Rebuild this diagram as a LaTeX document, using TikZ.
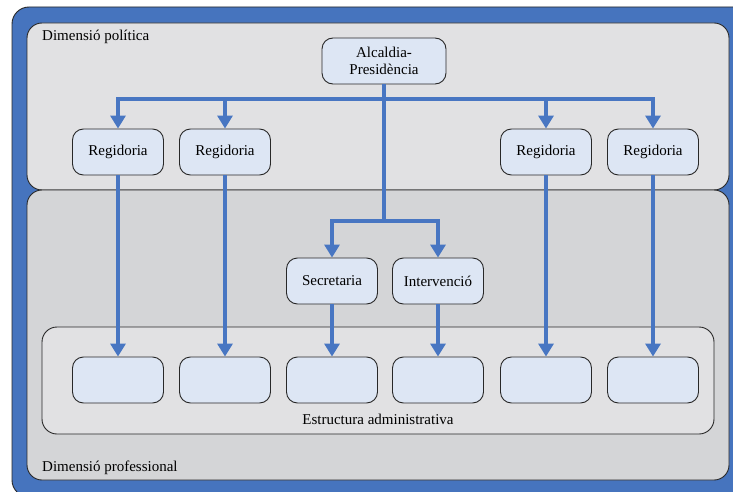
\documentclass[tikz,border=0pt]{standalone}
\usepackage{fontspec}
\setmainfont{Liberation Serif}
\usetikzlibrary{arrows.meta}
\definecolor{frameblue}{RGB}{70,116,190}
\definecolor{flowblue}{RGB}{72,118,194}
\definecolor{upperpanel}{RGB}{225,225,227}
\definecolor{lowerpanel}{RGB}{212,213,215}
\definecolor{boxfill}{RGB}{221,230,244}
\definecolor{edge}{RGB}{40,40,40}
\tikzset{
  unitbox/.style={draw=edge, line width=0.9pt, fill=boxfill, rounded corners=11pt,
    minimum width=91pt, minimum height=46pt, inner sep=0pt,
    font=\fontsize{15}{17.5}\selectfont, align=center},
  panel/.style={draw=edge, line width=0.9pt, rounded corners=15pt},
  pipe/.style={draw=flowblue, line width=4.2pt},
  flow/.style={pipe, -{Triangle[width=15pt,length=13pt]}},
  caption/.style={font=\fontsize{15}{17.5}\selectfont, inner sep=0pt}
}
\begin{document}
\begin{tikzpicture}[x=1pt,y=-1pt]
\useasboundingbox (0,0) rectangle (733,492);
\begin{scope}
\clip (0,0) rectangle (733,492);
% outer frame
\draw[panel, fill=frameblue, rounded corners=17pt] (12,7) rectangle (750,497);
% political and professional layers
\draw[panel, fill=upperpanel] (27,23) rectangle (729,190);
\draw[panel, fill=lowerpanel] (27,190) rectangle (729,480);
\draw[panel, fill=upperpanel] (42,327) rectangle (714,434);
\end{scope}

\node[caption, anchor=base west] (pol) at (42,41) {Dimensió política};
\node[caption, anchor=base west] (prof) at (42,471) {Dimensió professional};
\node[caption, anchor=base] (adm) at (378,424) {Estructura administrativa};

% governing bodies
\node[unitbox, minimum width=124pt] (alc) at (384,61) {Alcaldia-\\Presidència};
\node[unitbox] (r1) at (118,152) {Regidoria};
\node[unitbox] (r2) at (225,152) {Regidoria};
\node[unitbox] (r3) at (546,152) {Regidoria};
\node[unitbox] (r4) at (653,152) {Regidoria};
\node[unitbox] (sec) at (332,281) {Secretaria};
\node[unitbox] (int) at (438,281) {Intervenció};

% administrative units
\node[unitbox] (b1) at (118,380) {};
\node[unitbox] (b2) at (225,380) {};
\node[unitbox] (b3) at (332,380) {};
\node[unitbox] (b4) at (438,380) {};
\node[unitbox] (b5) at (546,380) {};
\node[unitbox] (b6) at (653,380) {};

\coordinate (bus) at (384,99);
\coordinate (split) at (384,221);

% connectors
\draw[pipe] (alc.south) -- (split);
\foreach \r in {r1,r2,r3,r4}
  \draw[flow] (bus) -| (\r.north);
\foreach \r in {sec,int}
  \draw[flow] (split) -| (\r.north);
\draw[flow] (r1.south) -- (b1.north);
\draw[flow] (r2.south) -- (b2.north);
\draw[flow] (sec.south) -- (b3.north);
\draw[flow] (int.south) -- (b4.north);
\draw[flow] (r3.south) -- (b5.north);
\draw[flow] (r4.south) -- (b6.north);
\end{tikzpicture}
\end{document}
